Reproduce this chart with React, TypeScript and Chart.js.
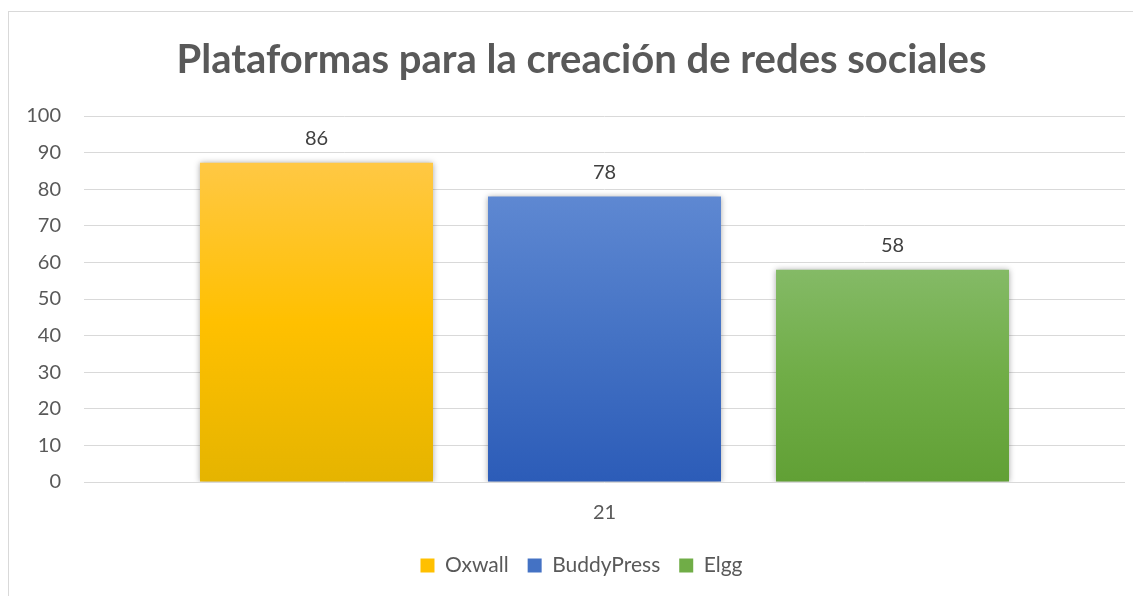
import React, { useEffect, useRef } from "react";
import { Chart, registerables } from "chart.js";

Chart.register(...registerables);

// ---- data ----
const chartTitle = "Plataformas para la creación de redes sociales";
const categories = ["21"];
const seriesNames = ["Oxwall", "BuddyPress", "Elgg"];
const oxwallValues = [87.2];
const buddyPressValues = [78];
const elggValues = [58];
const valueLabels = ["86", "78", "58"];
const yMin = 0;
const yMax = 100;
const yStep = 10;

// ---- styles ----
const oxwallStops = ["#FFC844", "#FFC000", "#E5B400"];
const buddyStops = ["#5E88D2", "#4472C4", "#2C5CB8"];
const elggStops = ["#84BA66", "#70AD47", "#61A035"];
const FONT = "Lato, 'Open Sans', 'Noto Sans', sans-serif";

const makeGradient = (stops: string[]) => (ctx: any) => {
  const chart = ctx.chart;
  const y = chart.scales && chart.scales.y;
  if (!y || ctx.type !== "data") return stops[1];
  const v = ctx.parsed ? ctx.parsed.y : ctx.raw;
  const top = y.getPixelForValue(v);
  const bottom = y.getPixelForValue(0);
  if (!isFinite(top) || !isFinite(bottom) || top === bottom) return stops[1];
  const g = chart.ctx.createLinearGradient(0, top, 0, bottom);
  g.addColorStop(0, stops[0]);
  g.addColorStop(0.5, stops[1]);
  g.addColorStop(1, stops[2]);
  return g;
};

const shadowPlugin = {
  id: "barShadow",
  beforeDatasetDraw(chart: any) {
    const c = chart.ctx;
    c.save();
    c.shadowColor = "rgba(0,0,0,0.35)";
    c.shadowBlur = 6;
    c.shadowOffsetX = 0;
    c.shadowOffsetY = 0;
  },
  afterDatasetDraw(chart: any) {
    chart.ctx.restore();
  },
};

const labelPlugin = {
  id: "valueLabels",
  afterDatasetsDraw(chart: any) {
    const c = chart.ctx;
    c.save();
    c.font = `20px ${FONT}`;
    c.fillStyle = "#404040";
    c.textAlign = "center";
    c.textBaseline = "middle";
    chart.data.datasets.forEach((_ds: any, i: number) => {
      const meta = chart.getDatasetMeta(i);
      meta.data.forEach((el: any) => {
        c.fillText(valueLabels[i], el.x, el.y - 24);
      });
    });
    c.restore();
  },
};

export default function App() {
  const ref = useRef<HTMLCanvasElement | null>(null);

  useEffect(() => {
    if (!ref.current) return;
    const stopsList = [oxwallStops, buddyStops, elggStops];
    const valuesList = [oxwallValues, buddyPressValues, elggValues];
    const chart = new Chart(ref.current, {
      type: "bar",
      data: {
        labels: categories,
        datasets: seriesNames.map((name, i) => ({
          label: name,
          data: valuesList[i],
          backgroundColor: makeGradient(stopsList[i]),
          borderWidth: 0,
          categoryPercentage: 0.83,
          barPercentage: 0.809,
          yAxisID: "y",
        })),
      },
      options: {
        responsive: false,
        animation: false,
        layout: { padding: { left: 0, right: 0, top: 0, bottom: 16 } },
        plugins: {
          title: {
            display: true,
            text: chartTitle,
            color: "#595959",
            font: { family: FONT, size: 40, weight: "bold", lineHeight: 1.2 },
            padding: { top: 24.5, bottom: 31.5 },
          },
          legend: {
            display: true,
            position: "bottom",
            labels: {
              font: { family: FONT, size: 21 },
              color: "#595959",
              boxWidth: 14,
              boxHeight: 14,
              padding: 19,
              generateLabels: (ch: any) =>
                ch.data.datasets.map((ds: any, i: number) => ({
                  text: ds.label,
                  fillStyle: stopsList[i][1],
                  strokeStyle: stopsList[i][1],
                  lineWidth: 0,
                  hidden: false,
                  datasetIndex: i,
                  fontColor: "#595959",
                })),
            },
          },
          tooltip: { enabled: false },
        },
        scales: {
          x: {
            grid: { display: false, drawTicks: false },
            border: { display: false },
            ticks: {
              font: { family: FONT, size: 20 },
              color: "#595959",
              padding: 19,
            },
            afterFit: (s: any) => {
              s.height = 54;
            },
          },
          y: {
            min: yMin,
            max: yMax,
            grid: { color: "#d9d9d9", lineWidth: 1, drawTicks: false },
            border: { display: false },
            ticks: {
              stepSize: yStep,
              font: { family: FONT, size: 20 },
              color: "#595959",
              padding: 23,
            },
            afterFit: (s: any) => {
              s.width = 75;
            },
          },
          yRight: {
            position: "right",
            display: true,
            grid: { display: false, drawTicks: false },
            border: { display: false },
            ticks: { display: false },
            afterFit: (s: any) => {
              s.width = 29;
            },
          },
        },
      } as any,
      plugins: [shadowPlugin, labelPlugin],
    });
    return () => chart.destroy();
  }, []);

  return (
    <div style={{ width: 1133, height: 588, overflow: "hidden" }}>
      <div
        style={{
          marginTop: 3,
          width: 1147,
          height: 600,
          border: "1px solid #d9d9d9",
          boxSizing: "border-box",
          background: "#fff",
        }}
      >
        <canvas ref={ref} width={1145} height={590} style={{ display: "block" }} />
      </div>
    </div>
  );
}
